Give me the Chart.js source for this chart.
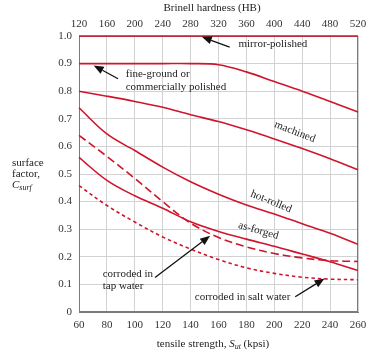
<!DOCTYPE html>
<html>
<head>
<meta charset="utf-8">
<script src="https://cdn.jsdelivr.net/npm/chart.js@4"></script>
<style>
  html, body { margin: 0; padding: 0; background: #fff; }
  #wrap { width: 377px; height: 352px; position: relative; }
</style>
</head>
<body>
<div id="wrap"><canvas id="chart"></canvas></div>
<script>
// tensile strength (kpsi) and surface factor readings
const sut = [60, 80, 100, 120, 140, 160, 180, 200, 220, 240, 260];
const mirrorPolished = [1, 1, 1, 1, 1, 1, 1, 1, 1, 1, 1];
const fineGround = [0.9, 0.9, 0.9, 0.9, 0.9, 0.896, 0.87, 0.835, 0.8, 0.763, 0.725];
const machined = [0.8, 0.782, 0.763, 0.742, 0.715, 0.69, 0.66, 0.627, 0.592, 0.555, 0.515];
const hotRolled = [0.74, 0.645, 0.585, 0.525, 0.472, 0.427, 0.388, 0.355, 0.32, 0.285, 0.245];
const asForged = [0.56, 0.477, 0.421, 0.376, 0.327, 0.292, 0.264, 0.238, 0.21, 0.182, 0.15];
const tapWater = [0.64, 0.564, 0.484, 0.4, 0.322, 0.27, 0.236, 0.212, 0.196, 0.186, 0.183];
const saltWater = [0.458, 0.386, 0.326, 0.272, 0.228, 0.19, 0.16, 0.14, 0.126, 0.119, 0.117];

const red = "#d0142c";
const serif = "'Liberation Serif', 'DejaVu Serif', serif";

function pts(vals) {
  return sut.map((s, i) => ({ x: s, y: vals[i] }));
}

function series(vals, dash) {
  return {
    data: pts(vals),
    borderColor: red,
    borderWidth: 1.6,
    borderDash: dash || [],
    pointRadius: 0,
    fill: false,
    tension: 0.35,
    clip: 3,
    xAxisID: "x",
    yAxisID: "y"
  };
}

// labels and arrows, anchored in data units
const notes = [
  { text: "mirror-polished", x: 199, y: 0.96, align: "center" },
  { text: "fine-ground or", x: 93.5, y: 0.853, align: "left" },
  { text: "commercially polished", x: 93.5, y: 0.805, align: "left" },
  { text: "machined", x: 214, y: 0.643, align: "center", rot: 21 },
  { text: "hot-rolled", x: 197, y: 0.39, align: "center", rot: 22 },
  { text: "as-forged", x: 188, y: 0.285, align: "center", rot: 16 },
  { text: "corroded in", x: 77, y: 0.128, align: "left" },
  { text: "tap water", x: 77, y: 0.082, align: "left" },
  { text: "corroded in salt water", x: 143, y: 0.043, align: "left" }
];
const arrows = [
  { from: [168, 0.96], to: [148, 0.997] },
  { from: [88, 0.845], to: [70.5, 0.893] },
  { from: [114.5, 0.125], to: [154, 0.276] },
  { from: [215, 0.055], to: [236, 0.121] }
];

const frame = {
  id: "frame",
  beforeDatasetsDraw(chart) {
    const ctx = chart.ctx;
    const a = chart.chartArea;
    ctx.save();
    ctx.strokeStyle = "#7a7a7a";
    ctx.lineWidth = 1;
    ctx.strokeRect(a.left + 0.5, a.top + 0.5, a.right - a.left - 1, a.bottom - a.top - 1);
    ctx.restore();
  }
};

const decor = {
  id: "decor",
  afterDatasetsDraw(chart) {
    const ctx = chart.ctx;
    const xs = chart.scales.x, ys = chart.scales.y;
    ctx.save();
    ctx.fillStyle = "#222";
    ctx.font = "11px " + serif;
    ctx.textBaseline = "alphabetic";
    notes.forEach(n => {
      const px = xs.getPixelForValue(n.x), py = ys.getPixelForValue(n.y);
      ctx.save();
      ctx.translate(px, py);
      if (n.rot) ctx.rotate(n.rot * Math.PI / 180);
      ctx.textAlign = n.align;
      ctx.fillText(n.text, 0, 0);
      ctx.restore();
    });

    ctx.strokeStyle = "#111";
    ctx.fillStyle = "#111";
    ctx.lineWidth = 1.3;
    arrows.forEach(ar => {
      const x1 = xs.getPixelForValue(ar.from[0]), y1 = ys.getPixelForValue(ar.from[1]);
      const x2 = xs.getPixelForValue(ar.to[0]), y2 = ys.getPixelForValue(ar.to[1]);
      const ang = Math.atan2(y2 - y1, x2 - x1);
      const hl = 10, hw = 4;
      const bx = x2 - hl * Math.cos(ang), by = y2 - hl * Math.sin(ang);
      ctx.beginPath();
      ctx.moveTo(x1, y1);
      ctx.lineTo(bx, by);
      ctx.stroke();
      ctx.beginPath();
      ctx.moveTo(x2, y2);
      ctx.lineTo(bx + hw * Math.sin(ang), by - hw * Math.cos(ang));
      ctx.lineTo(bx - hw * Math.sin(ang), by + hw * Math.cos(ang));
      ctx.closePath();
      ctx.fill();
    });

    // axis titles
    ctx.fillStyle = "#222";
    ctx.font = "11px " + serif;
    ctx.textAlign = "center";
    ctx.fillText("Brinell hardness (HB)", 212, 11);

    // bottom title with subscript
    const p1 = "tensile strength, ", p2 = "S", p3 = "ut", p4 = " (kpsi)";
    ctx.font = "11px " + serif;
    const w1 = ctx.measureText(p1).width, w4 = ctx.measureText(p4).width;
    ctx.font = "italic 11px " + serif;
    const w2 = ctx.measureText(p2).width;
    ctx.font = "italic 8px " + serif;
    const w3 = ctx.measureText(p3).width;
    let bx = 213 - (w1 + w2 + w3 + w4) / 2;
    const by = 347;
    ctx.textAlign = "left";
    ctx.font = "11px " + serif; ctx.fillText(p1, bx, by); bx += w1;
    ctx.font = "italic 11px " + serif; ctx.fillText(p2, bx, by); bx += w2;
    ctx.font = "italic 8px " + serif; ctx.fillText(p3, bx, by + 2); bx += w3;
    ctx.font = "11px " + serif; ctx.fillText(p4, bx, by);

    // left label
    ctx.font = "11px " + serif;
    ctx.fillText("surface", 12, 166);
    ctx.fillText("factor,", 12, 177);
    ctx.font = "italic 11px " + serif;
    ctx.fillText("C", 12, 188);
    const cw = ctx.measureText("C").width;
    ctx.font = "italic 8px " + serif;
    ctx.fillText("surf", 12 + cw, 190);
    ctx.restore();
  }
};

new Chart(document.getElementById("chart"), {
  type: "line",
  data: {
    datasets: [
      series(mirrorPolished),
      series(fineGround),
      series(machined),
      series(hotRolled),
      series(asForged),
      series(tapWater, [8, 4]),
      series(saltWater, [3.5, 3])
    ]
  },
  options: {
    responsive: true,
    maintainAspectRatio: false,
    animation: false,
    layout: { padding: { left: 0, right: 19, top: 0, bottom: 0 } },
    plugins: { legend: { display: false }, tooltip: { enabled: false } },
    scales: {
      x: {
        type: "linear",
        position: "bottom",
        min: 60,
        max: 260,
        ticks: { stepSize: 20, padding: 7, color: "#333", font: { family: serif, size: 11 } },
        grid: { color: "#d2d2d2", lineWidth: 1, drawTicks: false },
        border: { color: "#7a7a7a" },
        afterFit: s => { s.height = 40; }
      },
      x2: {
        type: "linear",
        position: "top",
        min: 120,
        max: 520,
        ticks: { stepSize: 40, padding: 5, color: "#333", font: { family: serif, size: 11 } },
        grid: { display: false, drawTicks: false },
        border: { display: false },
        afterFit: s => { s.height = 36; }
      },
      y: {
        min: 0,
        max: 1,
        ticks: {
          stepSize: 0.1,
          padding: 7,
          color: "#333",
          font: { family: serif, size: 11 },
          callback: v => (v === 0 ? "0" : v.toFixed(1))
        },
        grid: { color: "#d2d2d2", lineWidth: 1, drawTicks: false },
        border: { color: "#7a7a7a" },
        afterFit: s => { s.width = 79; }
      }
    }
  },
  plugins: [frame, decor]
});
</script>
</body>
</html>
